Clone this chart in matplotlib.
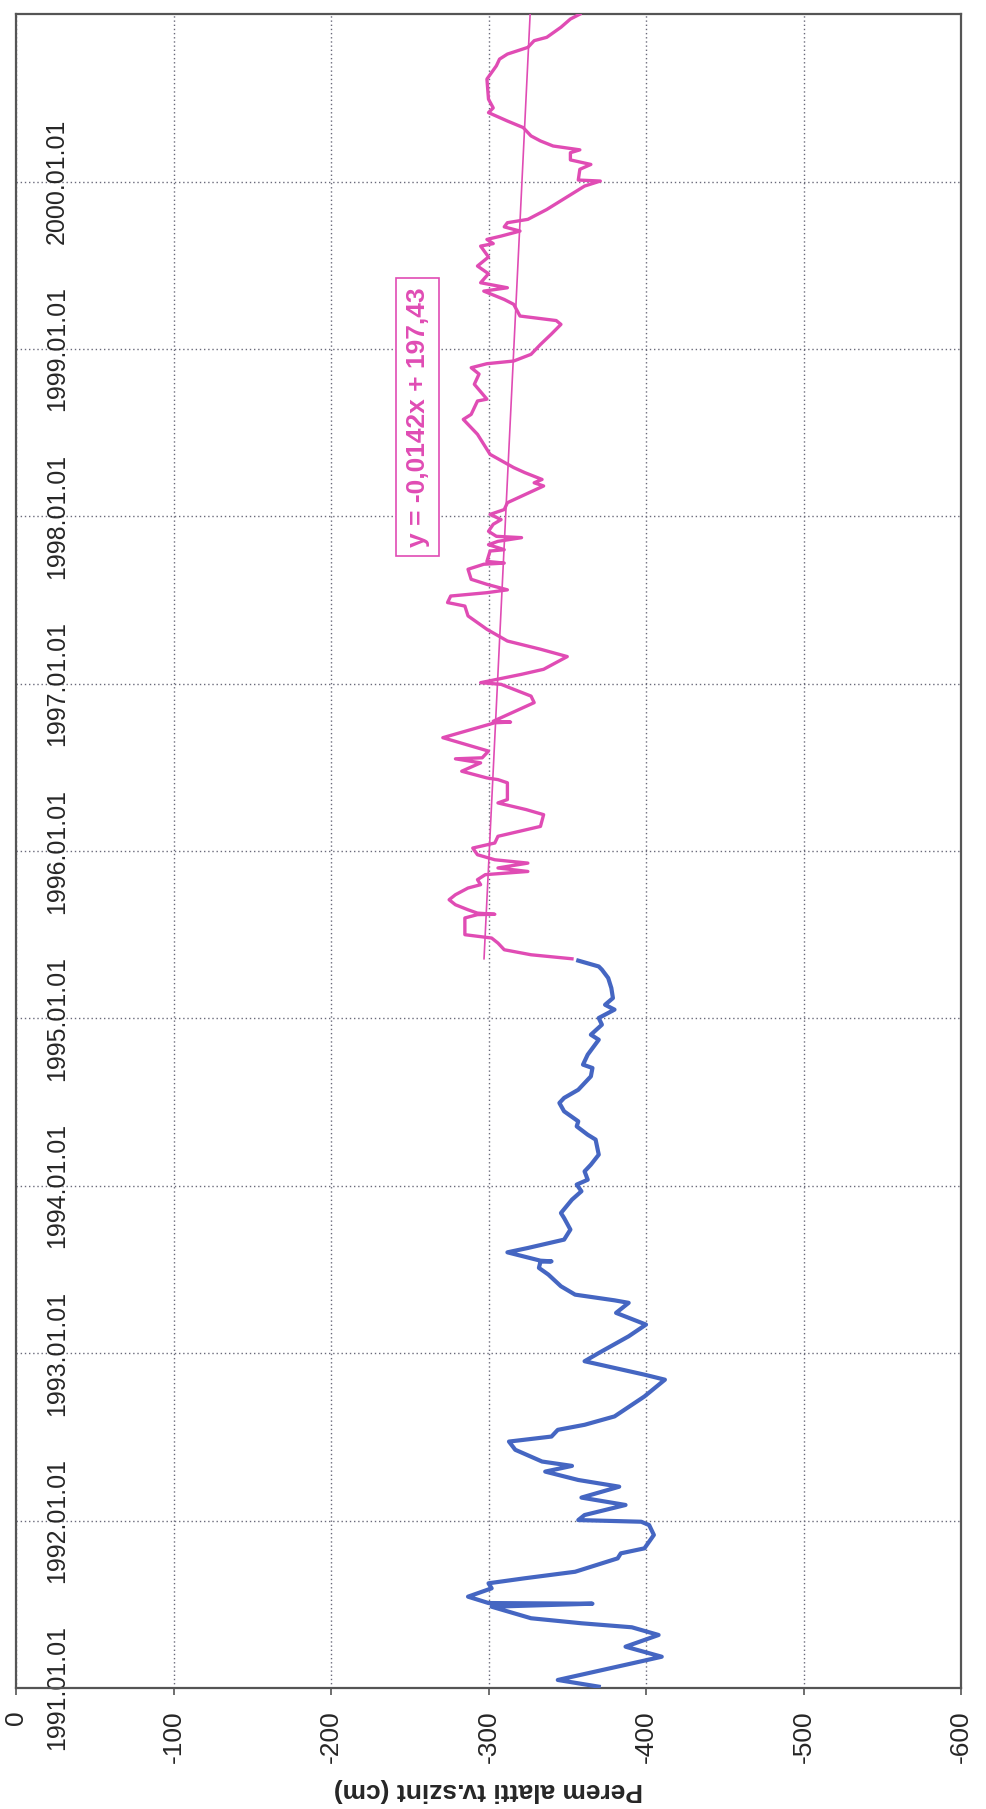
import matplotlib
matplotlib.use("Agg")
import matplotlib.pyplot as plt
import matplotlib.dates as mdates
from datetime import datetime, timedelta

plt.rcParams['font.family'] = ['Liberation Sans', 'DejaVu Sans']
plt.rcParams['axes.unicode_minus'] = False

# kék szakasz (1991 - 1995 közepe), évtized-tört formában leolvasva
blue_years = [1991.008, 1991.048, 1991.187, 1991.247, 1991.317, 1991.363, 1991.387, 1991.417,
              1991.486, 1991.504, 1991.508, 1991.546, 1991.596, 1991.626, 1991.656, 1991.695,
              1991.775, 1991.805, 1991.835, 1991.915, 1991.974, 1991.994, 1992.004, 1992.034,
              1992.094, 1992.138, 1992.203, 1992.243, 1992.293, 1992.327, 1992.353, 1992.423,
              1992.472, 1992.502, 1992.542, 1992.572, 1992.622, 1992.741, 1992.841, 1992.871,
              1992.951, 1993.000, 1993.100, 1993.170, 1993.240, 1993.300, 1993.315, 1993.349,
              1993.399, 1993.469, 1993.509, 1993.546, 1993.548, 1993.552, 1993.602, 1993.628,
              1993.678, 1993.738, 1993.807, 1993.837, 1993.917, 1993.967, 1994.007, 1994.036,
              1994.086, 1994.126, 1994.186, 1994.276, 1994.305, 1994.355, 1994.385, 1994.445,
              1994.495, 1994.525, 1994.574, 1994.654, 1994.704, 1994.724, 1994.784, 1994.873,
              1994.903, 1994.963, 1995.003, 1995.053, 1995.082, 1995.122, 1995.182, 1995.242,
              1995.292, 1995.311, 1995.346]
blue_values = [-370, -344, -410, -387, -408, -391, -359, -327,
               -302, -366, -300, -287, -302, -300, -323, -355,
               -382, -384, -399, -405, -402, -397, -357, -361,
               -387, -359, -383, -357, -336, -353, -334, -317,
               -313, -340, -344, -361, -380, -399, -412, -399,
               -361, -370, -389, -400, -381, -389, -380, -355,
               -346, -338, -332, -333, -340, -333, -312, -325,
               -348, -352, -348, -346, -353, -359, -356, -363,
               -361, -365, -370, -368, -363, -356, -357, -348,
               -345, -348, -357, -365, -366, -360, -363, -370,
               -365, -372, -370, -380, -374, -379, -378, -376,
               -372, -370, -357]

# rózsaszín szakasz (1995 közepétől), erre illesztették a trendvonalat
pink_years = [1995.357, 1995.381, 1995.411, 1995.451, 1995.481, 1995.501, 1995.601, 1995.621,
              1995.623, 1995.630, 1995.650, 1995.680, 1995.710, 1995.740, 1995.780, 1995.800,
              1995.830, 1995.860, 1995.879, 1995.900, 1995.929, 1995.949, 1995.979, 1996.019,
              1996.049, 1996.089, 1996.148, 1996.218, 1996.248, 1996.288, 1996.308, 1996.358,
              1996.408, 1996.427, 1996.437, 1996.477, 1996.527, 1996.551, 1996.557, 1996.597,
              1996.677, 1996.766, 1996.770, 1996.775, 1996.886, 1996.925, 1996.995, 1997.005,
              1997.055, 1997.085, 1997.161, 1997.205, 1997.254, 1997.324, 1997.404, 1997.463,
              1997.484, 1997.523, 1997.543, 1997.560, 1997.593, 1997.623, 1997.683, 1997.713,
              1997.720, 1997.730, 1997.792, 1997.800, 1997.830, 1997.850, 1997.872, 1997.880,
              1997.910, 1997.952, 1997.980, 1998.011, 1998.040, 1998.081, 1998.181, 1998.200,
              1998.220, 1998.261, 1998.291, 1998.370, 1998.400, 1998.490, 1998.579, 1998.609,
              1998.689, 1998.700, 1998.789, 1998.850, 1998.888, 1998.912, 1998.928, 1998.968,
              1999.027, 1999.090, 1999.147, 1999.170, 1999.197, 1999.267, 1999.296, 1999.346,
              1999.366, 1999.396, 1999.450, 1999.496, 1999.550, 1999.615, 1999.630, 1999.655,
              1999.675, 1999.705, 1999.730, 1999.755, 1999.775, 1999.834, 1999.974, 2000.004,
              2000.010, 2000.074, 2000.103, 2000.130, 2000.173, 2000.190, 2000.213, 2000.243,
              2000.273, 2000.323, 2000.362, 2000.412, 2000.440, 2000.492, 2000.612, 2000.691,
              2000.731, 2000.761, 2000.801, 2000.841, 2000.861, 2000.921, 2000.970, 2000.999]
pink_values = [-353, -327, -310, -306, -302, -285, -285, -293,
               -304, -293, -287, -279, -275, -279, -287, -295,
               -293, -298, -325, -306, -325, -304, -293, -290,
               -304, -306, -333, -335, -324, -306, -312, -312,
               -312, -306, -299, -283, -295, -279, -296, -300,
               -271, -304, -314, -303, -329, -327, -308, -295,
               -321, -335, -350, -333, -312, -299, -287, -285,
               -274, -276, -299, -312, -299, -289, -287, -297,
               -310, -299, -301, -310, -300, -306, -321, -305,
               -300, -303, -308, -301, -310, -312, -335, -329,
               -334, -323, -316, -301, -299, -293, -284, -289,
               -293, -299, -291, -294, -289, -299, -316, -327,
               -333, -340, -346, -343, -320, -316, -310, -297,
               -312, -295, -300, -293, -300, -295, -303, -299,
               -308, -320, -310, -312, -325, -337, -361, -371,
               -357, -358, -365, -352, -352, -358, -341, -333,
               -327, -322, -312, -300, -303, -300, -299, -305,
               -307, -312, -325, -329, -337, -346, -352, -358]

# Excel trendvonal: y = -0,0142x + 197,43 (x = Excel dátum-sorszám)
trend_slope = -0.0142
trend_intercept = 197.43
trend_label = 'y = -0,0142x + 197,43'

value_ticks = [0, -100, -200, -300, -400, -500, -600]
year_ticks = list(range(1991, 2001))

blue_col = '#4566c2'
pink_col = '#e04cb4'
text_col = '#262626'


def dec_to_date(y):
    year = int(y)
    start = datetime(year, 1, 1)
    days = (datetime(year + 1, 1, 1) - start).days
    return start + timedelta(days=(y - year) * days)


def excel_serial(d):
    return (d - datetime(1899, 12, 30)).total_seconds() / 86400.0


blue_dates = [dec_to_date(y) for y in blue_years]
pink_dates = [dec_to_date(y) for y in pink_years]
trend_dates = [pink_dates[0], pink_dates[-1]]
trend_vals = [trend_slope * excel_serial(d) + trend_intercept for d in trend_dates]

fig = plt.figure(figsize=(9.86, 18.09), dpi=100)
ax = fig.add_axes([16 / 986, (1809 - 1688) / 1809, 945 / 986, 1674 / 1809])

ax.plot(blue_values, blue_dates, color=blue_col, lw=3.0, solid_joinstyle='round', zorder=3)
ax.plot(pink_values, pink_dates, color=pink_col, lw=2.4, solid_joinstyle='round', zorder=3)
ax.plot(trend_vals, trend_dates, color=pink_col, lw=1.2, zorder=4)

ax.set_xlim(0, -600)
ax.set_ylim(datetime(1991, 1, 1), datetime(2001, 1, 1))
ax.set_xticks(value_ticks)
ax.set_xticklabels([str(v) for v in value_ticks])
ax.set_yticks([datetime(y, 1, 1) for y in year_ticks])
ax.yaxis.set_major_formatter(mdates.DateFormatter('%Y.%m.%d'))

ax.grid(True, linestyle=(0, (1, 2)), color='#6a6a7a', lw=1.0)
for s in ax.spines.values():
    s.set_color('#555555')
    s.set_linewidth(1.6)

ax.tick_params(axis='x', direction='out', length=5, width=1.2, color='#555555',
               labelsize=19, labelcolor=text_col, pad=11, labelrotation=90)
ax.tick_params(axis='y', direction='in', length=0, labelsize=18, labelcolor=text_col, pad=-21)
for lbl in ax.get_yticklabels():
    lbl.set_rotation(90)
    lbl.set_ha('left')
    lbl.set_va('center')

ax.set_xlabel('Perem alatti tv.szint (cm)', fontsize=19, fontweight='bold', color=text_col,
              rotation=180, labelpad=11)

ax.text(0.425, 0.759, trend_label, transform=ax.transAxes, rotation=90, fontsize=19,
        fontweight='bold', color=pink_col, ha='center', va='center',
        bbox=dict(boxstyle='square,pad=0.35', fc='white', ec=pink_col, lw=1.2), zorder=5)

fig.savefig('out.png', dpi=100)
